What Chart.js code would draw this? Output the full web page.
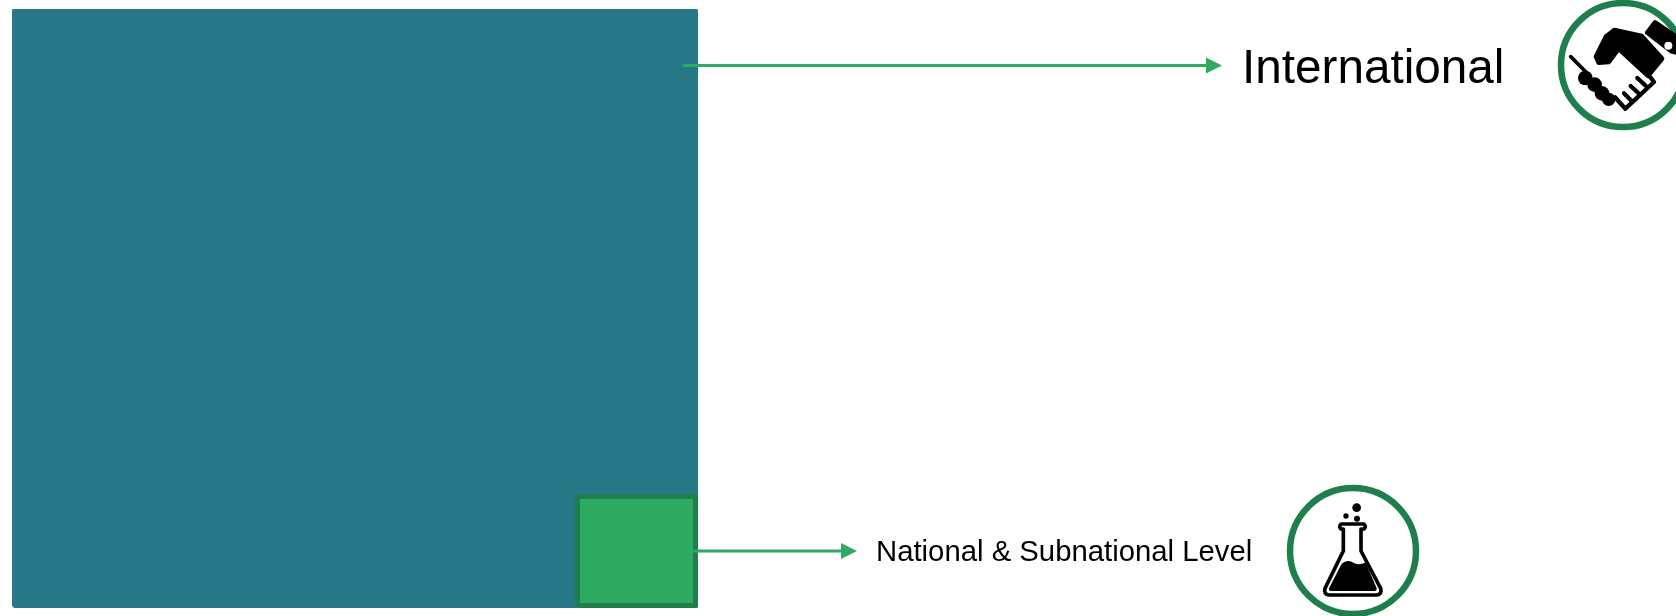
<!DOCTYPE html>
<html>
<head>
<meta charset="utf-8">
<title>International and national level</title>
<script src="https://cdn.jsdelivr.net/npm/chart.js@4"></script>
<style>
    html, body { margin: 0; padding: 0; background: #ffffff; overflow: hidden; }
    #scopeChart { display: block; }
</style>
</head>
<body>
<canvas id="scopeChart" width="1676" height="616"></canvas>
<script>
// the two nested regions in percent of the outer square
const scopes = ['International', 'National & Subnational Level'];
const scopeLeft = [0, 82.58];
const scopeRight = [100, 99.85];
const scopeBottom = [0, 0.17];
const scopeTop = [100, 18.46];

const COLORS = {
    teal: '#277786',
    green: '#2eaa62',
    darkGreen: '#1f7f4c',
    black: '#000000',
};

// top edge of a region, the filler closes it down to the axis
function regionTopEdge(i) {
    return [
        { x: scopeLeft[i], y: scopeTop[i] },
        { x: scopeRight[i], y: scopeTop[i] },
    ];
}

// closed outline of a region, in scale values
function regionOutline(i) {
    return [
        { x: scopeLeft[i], y: scopeBottom[i] },
        { x: scopeLeft[i], y: scopeTop[i] },
        { x: scopeRight[i], y: scopeTop[i] },
        { x: scopeRight[i], y: scopeBottom[i] },
        { x: scopeLeft[i], y: scopeBottom[i] },
    ];
}

function drawArrow(c, x0, x1, y) {
    c.strokeStyle = COLORS.green;
    c.fillStyle = COLORS.green;
    c.lineWidth = 3;
    c.beginPath();
    c.moveTo(x0, y);
    c.lineTo(x1 - 14, y);
    c.stroke();
    c.beginPath();
    c.moveTo(x1 - 16, y - 8);
    c.lineTo(x1, y);
    c.lineTo(x1 - 16, y + 8);
    c.closePath();
    c.fill();
}

function drawRing(c, x, y, r, width) {
    c.strokeStyle = COLORS.darkGreen;
    c.lineWidth = width;
    c.beginPath();
    c.arc(x, y, r, 0, Math.PI * 2);
    c.stroke();
}

// icon paths are sketched at 3x, same as the crops they were traced from
function drawHandshake(c) {
    c.save();
    c.translate(1560, 10);
    c.scale(1 / 3, 1 / 3);
    c.fillStyle = COLORS.black;
    c.strokeStyle = COLORS.black;
    c.lineJoin = 'round';
    c.lineCap = 'round';

    // cuff
    c.lineWidth = 14;
    c.beginPath();
    c.moveTo(285, 37);
    c.lineTo(360, 88);
    c.lineTo(360, 130);
    c.lineTo(335, 124);
    c.lineTo(262, 68);
    c.closePath();
    c.fill();
    c.stroke();
    c.fillStyle = '#ffffff';
    c.beginPath();
    c.arc(325, 107, 12, 0, Math.PI * 2);
    c.fill();
    c.fillStyle = COLORS.black;

    // upper hand
    c.lineWidth = 14;
    c.beginPath();
    c.moveTo(138, 80);
    c.lineTo(163, 60);
    c.lineTo(245, 78);
    c.lineTo(306, 146);
    c.lineTo(264, 197);
    c.lineTo(176, 116);
    c.lineTo(146, 156);
    c.lineTo(116, 158);
    c.lineTo(108, 140);
    c.closePath();
    c.fill();
    c.stroke();

    // sleeve line and knuckles of the lower hand
    c.lineWidth = 11;
    c.beginPath();
    c.moveTo(32, 140);
    c.lineTo(78, 186);
    c.stroke();
    [[76, 204, 22], [104, 224, 22], [126, 250, 22], [146, 268, 20]].forEach(k => {
        c.beginPath();
        c.arc(k[0], k[1], k[2], 0, Math.PI * 2);
        c.fill();
    });

    // fingers
    c.lineWidth = 13;
    c.beginPath();
    c.moveTo(165, 262);
    c.lineTo(196, 296);
    c.lineTo(282, 216);
    c.lineTo(268, 198);
    c.stroke();
    [[192, 250, 214, 272], [212, 228, 238, 252], [232, 204, 258, 228]].forEach(f => {
        c.beginPath();
        c.moveTo(f[0], f[1]);
        c.lineTo(f[2], f[3]);
        c.stroke();
    });
    c.restore();
}

function drawFlask(c) {
    c.save();
    c.translate(1315, 495);
    c.scale(1 / 3, 1 / 3);
    c.fillStyle = COLORS.black;
    c.strokeStyle = COLORS.black;
    c.lineJoin = 'round';
    c.lineCap = 'round';

    [[125, 38, 13], [93, 63, 8], [126, 71, 9]].forEach(b => {
        c.beginPath();
        c.arc(b[0], b[1], b[2], 0, Math.PI * 2);
        c.fill();
    });

    // glass outline
    c.lineWidth = 11;
    c.beginPath();
    c.moveTo(85, 102);
    c.lineTo(78, 102);
    c.quadraticCurveTo(70, 95, 78, 87);
    c.lineTo(147, 87);
    c.quadraticCurveTo(155, 95, 147, 102);
    c.lineTo(138, 102);
    c.lineTo(138, 168);
    c.lineTo(197, 280);
    c.quadraticCurveTo(202, 298, 185, 300);
    c.lineTo(42, 300);
    c.quadraticCurveTo(25, 298, 30, 280);
    c.lineTo(85, 168);
    c.closePath();
    c.stroke();

    // liquid
    c.beginPath();
    c.moveTo(80, 206);
    c.quadraticCurveTo(98, 190, 118, 205);
    c.quadraticCurveTo(135, 212, 152, 202);
    c.lineTo(185, 280);
    c.quadraticCurveTo(186, 288, 178, 288);
    c.lineTo(48, 288);
    c.quadraticCurveTo(40, 288, 42, 280);
    c.closePath();
    c.fill();
    c.restore();
}

// arrows, labels and icons sit outside the plot area
const calloutPlugin = {
    id: 'callouts',
    afterDatasetsDraw(chart) {
        const c = chart.ctx;
        c.save();

        drawArrow(c, 683, 1222, 65.5);
        drawArrow(c, 667, 857, 551);

        c.fillStyle = COLORS.black;
        c.textBaseline = 'alphabetic';
        c.font = '47.7px "Liberation Sans"';
        c.fillText(scopes[0], 1242, 83);
        c.font = '29.3px "Liberation Sans"';
        c.fillText(scopes[1], 876, 561);

        drawRing(c, 1623, 65, 62, 6.5);
        drawRing(c, 1353, 551, 63, 6.5);
        drawHandshake(c);
        drawFlask(c);
        c.restore();
    },
};

const ctx = document.getElementById('scopeChart');

// one filled dataset and one outline per region, outer region underneath
function regionDatasets(i, lineWidth, lineColor, fillColor, order) {
    return [
        {
            label: scopes[i],
            data: regionTopEdge(i),
            showLine: true,
            fill: 'origin',
            order: order + 1,
            clip: false,
            pointRadius: 0,
            borderWidth: 0,
            backgroundColor: fillColor,
        },
        {
            label: scopes[i] + ' outline',
            data: regionOutline(i),
            showLine: true,
            fill: false,
            order: order,
            clip: false,
            pointRadius: 0,
            borderWidth: lineWidth,
            borderJoinStyle: 'round',
            borderColor: lineColor,
        },
    ];
}

const scopeConfig = {
    type: 'scatter',
    data: {
        datasets: [
            ...regionDatasets(0, 3, COLORS.teal, COLORS.teal, 3),
            ...regionDatasets(1, 5, COLORS.darkGreen, COLORS.green, 1),
        ],
    },
    options: {
        responsive: false,
        animation: false,
        layout: {
            padding: { left: 13.5, top: 10.5, right: 979.5, bottom: 9.5 },
        },
        plugins: {
            legend: { display: false },
            title: { display: false },
            tooltip: { enabled: false },
        },
        scales: {
            x: { type: 'linear', min: 0, max: 100, display: false },
            y: { type: 'linear', min: 0, max: 100, display: false },
        },
    },
    plugins: [calloutPlugin],
};

const scopeChart = new Chart(ctx, scopeConfig);
</script>
</body>
</html>
